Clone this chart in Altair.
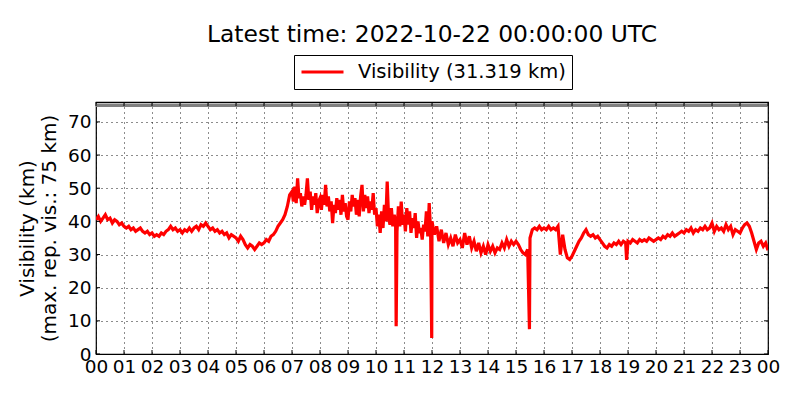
import altair as alt
import pandas as pd

# Visibility (km), per hour of the day (evenly spaced readings within each hour)
h00 = [40.5, 41.5, 40.0, 41.0, 42.0, 40.5, 41.0, 39.5, 40.5, 40.0, 39.0, 39.5]
h01 = [38.5, 38.0, 38.5, 37.5, 38.0, 37.0, 37.5, 38.0, 37.0, 36.5, 37.0, 36.0]
h02 = [36.5, 35.5, 36.0, 35.5, 36.5, 36.0, 37.0, 37.5, 38.5, 37.5, 38.0, 37.0]
h03 = [37.5, 36.5, 37.5, 37.0, 38.0, 37.0, 38.0, 38.5, 37.5, 39.0, 38.5, 39.5]
h04 = [38.5, 37.5, 38.0, 37.0, 37.5, 36.5, 37.0, 36.0, 36.5, 35.0, 36.0, 35.5]
h05 = [35.0, 34.0, 35.5, 34.5, 33.0, 32.0, 33.0, 32.5, 31.5, 32.5, 33.5, 33.0]
h06 = [33.5, 34.5, 34.0, 35.5, 36.0, 37.0, 38.5, 39.5, 40.5, 42.0, 44.5, 48.0]
h07 = [49.0, 46.0, 50.5, 45.5, 53.0, 47.0, 48.5, 44.5, 47.5, 45.0, 48.0, 53.0, 46.5, 49.0, 43.5, 47.5, 45.0, 48.5, 42.5, 46.0]
h08 = [47.0, 43.5, 48.0, 45.0, 51.0, 44.5, 47.5, 43.0, 46.0, 39.5, 45.0, 42.5, 47.0, 43.5, 46.5, 42.0, 48.0, 43.0, 45.5, 41.5]
h09 = [40.5, 46.0, 43.0, 48.0, 44.5, 47.0, 42.0, 46.5, 41.5, 47.5, 51.0, 43.0, 48.0, 44.0, 47.5, 42.5, 46.0, 43.5, 48.5, 42.0]
h10 = [44.0, 38.5, 42.0, 36.5, 43.0, 38.0, 45.0, 40.0, 52.0, 41.0, 39.0, 44.0, 38.5, 42.0, 40.0, 37.0, 44.5, 38.5, 46.0, 39.0]
h11 = [42.0, 37.0, 44.0, 39.0, 43.0, 36.5, 41.0, 38.0, 42.5, 35.0, 40.0, 36.5, 38.0, 34.5, 39.0, 37.0, 43.0, 35.5, 45.5, 37.0]
h12 = [40.0, 36.0, 38.5, 34.0, 37.5, 33.5, 36.5, 33.0, 35.0, 32.5, 36.0, 33.5]
h13 = [34.5, 32.0, 36.5, 33.0, 35.5, 32.0, 34.0, 31.0, 33.5, 30.5, 32.5, 30.0]
h14 = [33.0, 31.0, 32.5, 30.5, 32.0, 31.5, 33.5, 32.0, 34.5, 32.5, 34.0, 33.0]
h15 = [34.0, 33.0, 31.5, 30.5, 30.0, 31.5, 35.0, 37.5, 38.0, 37.5, 38.5, 37.5]
h16 = [38.0, 37.5, 38.5, 37.5, 38.0, 37.5, 38.5, 30.0, 36.0, 31.5, 29.0, 28.5]
h17 = [29.5, 31.0, 32.5, 34.0, 35.0, 36.5, 37.5, 36.0, 35.5, 36.0, 35.0, 35.5]
h18 = [34.5, 33.5, 32.5, 32.0, 33.0, 32.5, 33.5, 33.0, 34.0, 33.0, 34.0, 33.5]
h19 = [34.0, 33.5, 34.5, 34.0, 33.5, 34.5, 34.0, 34.5, 34.0, 35.0, 34.5, 34.0]
h20 = [34.5, 35.0, 34.5, 35.5, 35.0, 36.0, 35.5, 36.5, 35.5, 36.0, 36.5, 37.0]
h21 = [36.5, 37.5, 37.0, 38.0, 36.5, 37.5, 37.0, 38.0, 37.5, 38.5, 37.5, 38.0]
h22 = [39.5, 37.0, 38.5, 37.5, 38.0, 37.0, 39.0, 37.5, 38.5, 36.0, 37.5, 37.0]
h23 = [36.5, 38.0, 39.0, 39.5, 38.5, 36.5, 34.0, 31.5, 33.5, 34.0, 32.5, 33.5]
last_value = 31.319

# Short drops in visibility (hour of day, km)
spike_hours = [10.72, 11.99, 15.48, 18.95]
spike_vals = [8.4, 4.8, 7.5, 28.4]

hours = [h00, h01, h02, h03, h04, h05, h06, h07, h08, h09, h10, h11,
         h12, h13, h14, h15, h16, h17, h18, h19, h20, h21, h22, h23]

x_ticks = list(range(25))
y_ticks = [0, 10, 20, 30, 40, 50, 60, 70]
max_rep_vis = 75
series_name = "Visibility (31.319 km)"

rows = []
for h, vals in enumerate(hours):
    n = len(vals)
    for i, v in enumerate(vals):
        rows.append({"t": h + i / n, "v": v})
rows.append({"t": 24.0, "v": last_value})
for t, v in zip(spike_hours, spike_vals):
    rows.append({"t": t, "v": v})
df = pd.DataFrame(rows).sort_values("t").reset_index(drop=True)
df["series"] = series_name

W, H = 672, 252
FONT = "DejaVu Sans"

xscale = alt.Scale(domain=[0, 24], nice=False, zero=False)
yscale = alt.Scale(domain=[0, 76], nice=False, zero=True)

x_axis = alt.Axis(
    values=x_ticks,
    labelExpr="datum.value == 24 ? '00' : (datum.value < 10 ? '0' + datum.value : '' + datum.value)",
    title=None, grid=True, gridDash=[1, 4], gridColor="black", gridOpacity=0.9,
    domain=False, ticks=False, labelFontSize=18.5, labelPadding=3, labelFont=FONT,
    labelColor="black", labelOverlap=False, labelFlush=False,
)
y_axis = alt.Axis(
    values=y_ticks,
    title=["Visibility (km)", "(max. rep. vis.: 75 km)"],
    titleFontSize=20, titleFontWeight="normal", titleFont=FONT, titleColor="black",
    titlePadding=8, titleLineHeight=22,
    grid=True, gridDash=[1, 4], gridColor="black", gridOpacity=0.9,
    domain=False, ticks=False, labelFontSize=18.5, labelPadding=5, labelFont=FONT,
    labelColor="black", labelOverlap=False,
)

line = alt.Chart(df).mark_line(strokeWidth=3.2, clip=True).encode(
    x=alt.X("t:Q", scale=xscale, axis=x_axis),
    y=alt.Y("v:Q", scale=yscale, axis=y_axis),
    color=alt.Color(
        "series:N",
        scale=alt.Scale(domain=[series_name], range=["#ff0000"]),
        legend=alt.Legend(
            title=None, orient="none", legendX=198, legendY=-47,
            strokeColor="black", fillColor="white", padding=6,
            symbolType="stroke", symbolSize=1764, symbolStrokeWidth=3,
            labelFontSize=19.5, labelFont=FONT, labelColor="black", labelOffset=13,
            labelLimit=400, clipHeight=22,
        ),
    ),
)

maxline = alt.Chart(pd.DataFrame({"v": [max_rep_vis]})).mark_rule(
    color="#808080", strokeWidth=3.5, clip=True
).encode(y=alt.Y("v:Q", scale=yscale, axis=y_axis))

xt = pd.DataFrame({"t": x_ticks})
yt = pd.DataFrame({"v": y_ticks})
tick_bottom = alt.Chart(xt).mark_rule(color="black").encode(
    x=alt.X("t:Q", scale=xscale, axis=x_axis), y=alt.value(H), y2=alt.value(H - 4))
tick_top = alt.Chart(xt).mark_rule(color="black").encode(
    x=alt.X("t:Q", scale=xscale, axis=x_axis), y=alt.value(0), y2=alt.value(4))
tick_left = alt.Chart(yt).mark_rule(color="black").encode(
    y=alt.Y("v:Q", scale=yscale, axis=y_axis), x=alt.value(0), x2=alt.value(4))
tick_right = alt.Chart(yt).mark_rule(color="black").encode(
    y=alt.Y("v:Q", scale=yscale, axis=y_axis), x=alt.value(W), x2=alt.value(W - 4))

chart = alt.layer(line, maxline, tick_bottom, tick_top, tick_left, tick_right).properties(
    width=W, height=H,
    title=alt.TitleParams(
        "Latest time: 2022-10-22 00:00:00 UTC", fontSize=23.4, font=FONT,
        fontWeight="normal", anchor="middle", frame="group", offset=7, color="black",
    ),
    padding={"left": 88, "top": 94, "right": 24, "bottom": 30},
    autosize=alt.AutoSizeParams(type="none"),
).configure_view(stroke="black", strokeWidth=1.2)

chart.save("out.html", embed_options={"renderer": "svg", "actions": False})
